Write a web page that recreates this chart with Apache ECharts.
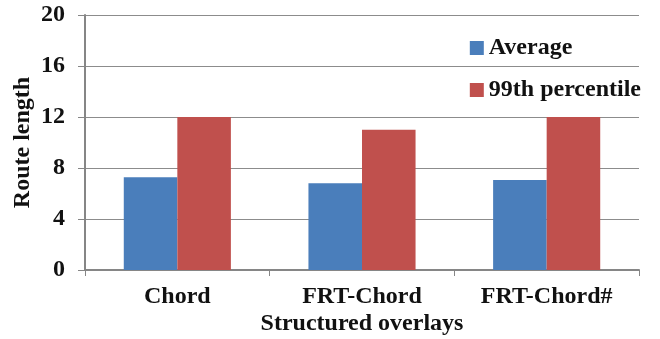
<!DOCTYPE html>
<html lang="en">
<head>
  <meta charset="UTF-8">
  <title>Route length</title>
  <script src="https://cdn.jsdelivr.net/npm/echarts@6/dist/echarts.min.js"></script>
  <style>
    html, body { margin: 0; padding: 0; background: #fff; }
    #main { width: 660px; height: 339px; }
  </style>
</head>
<body>
  <div id="main"></div>
  <script>
    const categories = ['Chord', 'FRT-Chord', 'FRT-Chord#'];
    const average = [7.27, 6.8, 7.05];
    const percentile99 = [12, 11, 12];
    const yTicks = [0, 4, 8, 12, 16, 20];

    const font = "'Liberation Serif', 'Times New Roman', serif";
    const chart = echarts.init(document.getElementById('main'));

    chart.setOption({
      animation: false,
      textStyle: { fontFamily: font },
      grid: { left: 85, right: 21, top: 15, bottom: 69, outerBoundsMode: 'none', containLabel: false },
      legend: {
        orient: 'vertical',
        right: 14,
        top: 31,
        itemWidth: 14,
        itemHeight: 14,
        itemGap: 18,
        icon: 'rect',
        textStyle: { fontFamily: font, fontWeight: 'bold', fontSize: 24, color: '#111' }
      },
      xAxis: {
        type: 'category',
        data: categories,
        name: 'Structured overlays',
        nameLocation: 'middle',
        nameGap: 42,
        nameMoveOverlap: false,
        nameTextStyle: { fontFamily: font, fontWeight: 'bold', fontSize: 24, color: '#111' },
        axisLine: { lineStyle: { color: '#868686', width: 2 } },
        axisTick: { show: true, length: 6, lineStyle: { color: '#868686' } },
        axisLabel: { margin: 15, fontFamily: font, fontWeight: 'bold', fontSize: 24, color: '#111' }
      },
      yAxis: {
        type: 'value',
        min: yTicks[0],
        max: yTicks[yTicks.length - 1],
        interval: yTicks[1] - yTicks[0],
        name: 'Route length',
        nameLocation: 'middle',
        nameGap: 50,
        nameMoveOverlap: false,
        nameTextStyle: { fontFamily: font, fontWeight: 'bold', fontSize: 24, color: '#111' },
        axisLine: { show: true, lineStyle: { color: '#868686', width: 2 } },
        axisTick: { show: true, length: 7, lineStyle: { color: '#868686' } },
        axisLabel: { margin: 20, fontFamily: font, fontWeight: 'bold', fontSize: 24, color: '#111' },
        splitLine: { lineStyle: { color: '#8c8c8c', width: 1 } }
      },
      series: [
        {
          name: 'Average',
          type: 'bar',
          data: average,
          barGap: '0%',
          barCategoryGap: '42%',
          itemStyle: { color: '#4a7ebb' }
        },
        {
          name: '99th percentile',
          type: 'bar',
          data: percentile99,
          itemStyle: { color: '#c0504d' }
        }
      ]
    });
  </script>
</body>
</html>
